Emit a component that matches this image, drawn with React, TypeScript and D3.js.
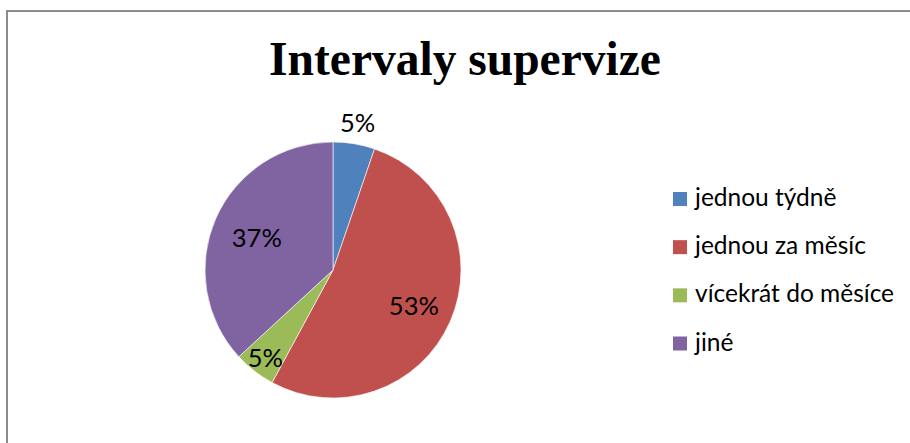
import React from 'react';
import * as d3 from 'd3';

// Chart data
const title = 'Intervaly supervize';
const categories = ['jednou týdně', 'jednou za měsíc', 'vícekrát do měsíce', 'jiné'];
const counts = [1, 10, 1, 7];
const colors = ['#4F81BD', '#C0504D', '#9BBB59', '#8064A2'];

const width = 910;
const height = 443;

export default function App() {
  const cx = 333;
  const cy = 270;
  const radius = 128;

  const total = d3.sum(counts);
  const pie = d3.pie<number>().sort(null).value(d => d);
  const arcs = pie(counts);
  const arc = d3.arc<d3.PieArcDatum<number>>().innerRadius(0).outerRadius(radius);

  // best-fit style label placement (relative to radius)
  const labelRadiusFactor = [1.17, 0.69, 0.86, 0.65];
  const fmt = d3.format('.0%');

  const legendY = d3.scalePoint<string>().domain(categories).range([199, 343.5]);

  return (
    <svg
      width={width}
      height={height}
      viewBox={`0 0 ${width} ${height}`}
      style={{ position: 'absolute', left: 0, top: 0, background: '#fff' }}
    >
      <rect x={7} y={11} width={width + 10} height={height + 10} fill="#fff" stroke="#8c8c8c" strokeWidth={2} />

      <text
        x={465}
        y={75}
        textAnchor="middle"
        style={{ fontFamily: '"Liberation Serif", "Times New Roman", serif', fontWeight: 'bold', fontSize: 47.5 }}
        fill="#000"
      >
        {title}
      </text>

      <g transform={`translate(${cx},${cy})`}>
        {arcs.map((a, i) => (
          <path key={i} d={arc(a) ?? ''} fill={colors[i]} stroke="#fff" strokeWidth={0.6} />
        ))}
        {arcs.map((a, i) => {
          const r = radius * labelRadiusFactor[i];
          const [lx, ly] = d3.arc<d3.PieArcDatum<number>>().innerRadius(r).outerRadius(r).centroid(a);
          return (
            <text
              key={'l' + i}
              x={lx}
              y={ly}
              textAnchor="middle"
              dominantBaseline="central"
              style={{ fontFamily: 'Lato, "Open Sans", sans-serif', fontSize: 25.5 }}
              fill="#000"
            >
              {fmt(a.data / total)}
            </text>
          );
        })}
      </g>

      <g>
        {categories.map((c, i) => {
          const y = legendY(c) ?? 0;
          return (
            <g key={c}>
              <rect x={673} y={y - 7} width={14} height={14} fill={colors[i]} />
              <text
                x={695}
                y={y + 7}
                style={{ fontFamily: 'Lato, "Open Sans", sans-serif', fontSize: 24.5 }}
                fill="#000"
              >
                {c}
              </text>
            </g>
          );
        })}
      </g>
    </svg>
  );
}
